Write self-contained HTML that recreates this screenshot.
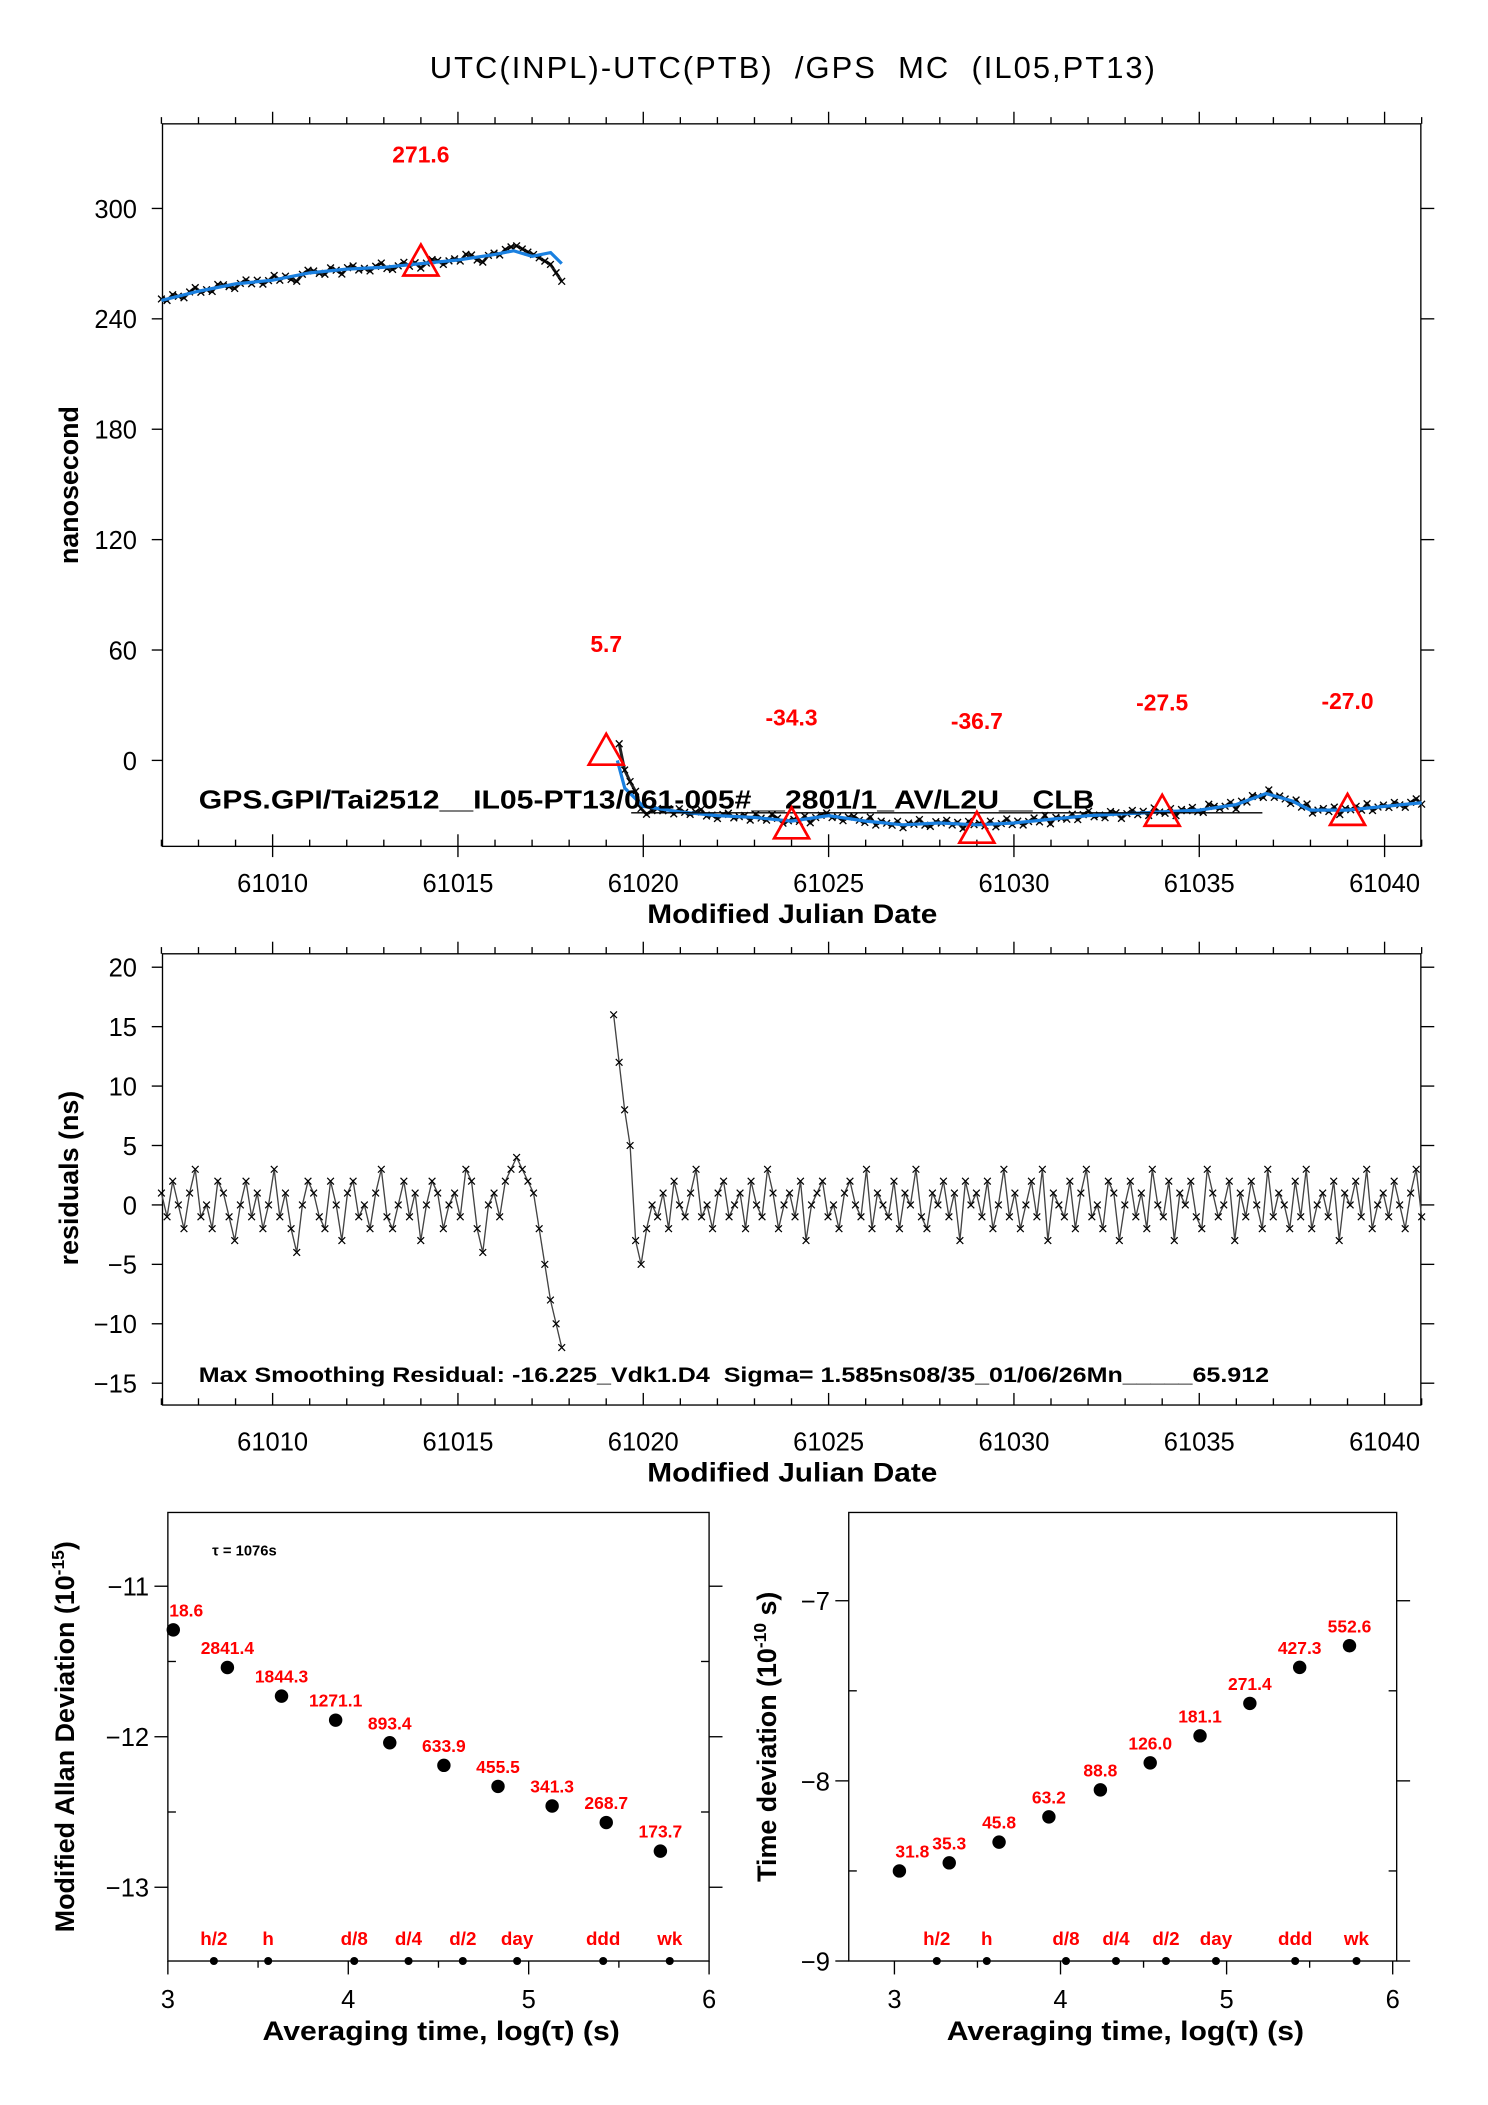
<!DOCTYPE html>
<html><head><meta charset="utf-8"><style>html,body{margin:0;padding:0;background:#fff}svg{display:block}text{font-family:"Liberation Sans",sans-serif;white-space:pre}</style></head>
<body>
<svg id="chart" xmlns="http://www.w3.org/2000/svg" width="1488" height="2105" viewBox="0 0 1108 1567">
<rect width="1108" height="1567" fill="#fff"/>
<text x="590" y="58" font-size="23" text-anchor="middle" textLength="540" lengthAdjust="spacing" xml:space="preserve">UTC(INPL)-UTC(PTB)  /GPS  MC  (IL05,PT13)</text>
<g id="top"></g><g id="mid"></g><g id="adev"></g><g id="tdev"></g>
</svg>
<script>
// ---- Top panel data ----
const seg1Mjd=[61007,61008,61009,61010,61011,61012,61013,61014,61015,61016,61016.5,61017,61017.5,61017.8];
const seg1Ns=[250,255,259,261,265,267,268,270,272,275,277,274,276,270];
const seg2Mjd=[61019.3,61019.5,61020,61021,61022,61023,61024,61025,61026,61027,61028,61029,61030,61031,61032,61033,61034,61035,61036,61036.8,61037.5,61038,61039,61040,61041];
const seg2Ns=[0,-15,-25,-28,-30,-31,-33,-30,-33,-35,-34,-35,-34,-32,-30,-29,-28,-27,-24,-18,-22,-27,-27,-25,-23];
const triMjd=[61014,61019,61024,61029,61034,61039];
const triVal=[271.6,5.7,-34.3,-36.7,-27.5,-27.0];
const triLabelNs=[325,59,19,17,27,28];
const mjdTicks=[61010,61015,61020,61025,61030,61035,61040];
const nsTicks=[0,60,120,180,240,300];
// ---- Residual data ----
const res1=[1,-1,2,0,-2,1,3,-1,0,-2,2,1,-1,-3,0,2,-1,1,-2,0,3,-1,1,-2,-4,0,2,1,-1,-2,2,0,-3,1,2,-1,0,-2,1,3,-1,-2,0,2,-1,1,-3,0,2,1,-2,0,1,-1,3,2,-2,-4,0,1,-1,2,3,4,3,2,1,-2,-5,-8,-10,-12];
const res2=[16,12,8,5,-3,-5,-2,0,-1,1,-2,2,0,-1,1,3,-1,0,-2,1,2,-1,0,1,-2,2,0,-1,3,1,-2,0,1,-1,2,-3,0,1,2,-1,0,-2,1,2,0,-1,3,-2,1,0,-1,2,-2,1,0,3,-1,-2,1,0,2,-1,1,-3,2,0,1,-1,2,-2,0,3,-1,1,-2,0,2,-1,3,-3,1,0,-1,2,-2,1,3,-1,0,-2,2,1,-3,0,2,-1,1,-2,3,0,-1,2,-3,1,0,2,-1,-2,3,1,-1,0,2,-3,1,-1,2,0,-2,3,-1,1,0,-2,2,-1,3,-2,0,1,-1,2,-3,1,0,2,-1,3,-2,0,1,-1,2,0,-2,1,3,-1];
const res1Start=61007, res1End=61017.8, res2Start=61019.2, res2End=61041;
const resTicks=[-15,-10,-5,0,5,10,15,20];
// ---- Allan / TDEV data ----
const adevLogTau=[3.03,3.33,3.63,3.93,4.23,4.53,4.83,5.13,5.43,5.73];
const adevVal=[-11.29,-11.54,-11.73,-11.89,-12.04,-12.19,-12.33,-12.46,-12.57,-12.76];
const adevLabels=["18.6","2841.4","1844.3","1271.1","893.4","633.9","455.5","341.3","268.7","173.7"];
const tdevLogTau=[3.03,3.33,3.63,3.93,4.24,4.54,4.84,5.14,5.44,5.74];
const tdevVal=[-8.5,-8.455,-8.34,-8.2,-8.05,-7.9,-7.75,-7.57,-7.37,-7.25];
const tdevLabels=["31.8","35.3","45.8","63.2","88.8","126.0","181.1","271.4","427.3","552.6"];
const markNames=["h/2","h","d/8","d/4","d/2","day","ddd","wk"];
const markLog=[3.255,3.556,4.033,4.334,4.635,4.936,5.413,5.782];
const NS="http://www.w3.org/2000/svg";
function mk(p,tag,at,txt){const e=document.createElementNS(NS,tag);for(const k in at)e.setAttribute(k,at[k]);if(txt!==undefined)e.textContent=txt;p.appendChild(e);return e;}
function lin(d0,d1,r0,r1){return v=>r0+(v-d0)*(r1-r0)/(d1-d0);}
function interp(xs,ys,x){if(x<=xs[0])return ys[0];for(let i=1;i<xs.length;i++){if(x<=xs[i]){const t=(x-xs[i-1])/(xs[i]-xs[i-1]);return ys[i-1]+t*(ys[i]-ys[i-1]);}}return ys[ys.length-1];}
function xmark(g,x,y,s,w){return mk(g,'path',{d:`M${x-s},${y-s}L${x+s},${y+s}M${x-s},${y+s}L${x+s},${y-s}`,stroke:'#000','stroke-width':w});}

// ===== TOP =====
(function(){
const g=document.getElementById('top');
const X=lin(61007,61041,120.2,1058.6), Y=lin(0,300,566,155);
const L=121,R=1058,T=92,B=630;
let e=mk(g,'rect',{x:L,y:T,width:R-L,height:B-T,fill:'none',stroke:'#000','stroke-width':1});

for(let d=61007;d<=61041;d++){const x=X(d);const maj=d%5==0;
 mk(g,'line',{x1:x,y1:T,x2:x,y2:T-(maj?9:5),stroke:'#000'});mk(g,'line',{x1:x,y1:B,x2:x,y2:B-(maj?9:5),stroke:'#000'});
 if(maj){mk(g,'line',{x1:x,y1:B,x2:x,y2:B+8,stroke:'#000'});}}
mjdTicks.forEach(t=>{e=mk(g,'text',{x:X(t),y:664,'font-size':19,'text-anchor':'middle'},t);});
nsTicks.forEach(t=>{const y=Y(t);mk(g,'line',{x1:L-8,y1:y,x2:L,y2:y,stroke:'#000'});mk(g,'line',{x1:R,y1:y,x2:R+10,y2:y,stroke:'#000'});
 e=mk(g,'text',{x:102,y:y+7,'font-size':19,'text-anchor':'end'},t);});
e=mk(g,'text',{x:590,y:687,'font-size':20,'font-weight':'bold','text-anchor':'middle',textLength:216,lengthAdjust:'spacingAndGlyphs'},'Modified Julian Date');
e=mk(g,'text',{x:58,y:361,'font-size':20,'font-weight':'bold','text-anchor':'middle',transform:'rotate(-90 58 361)'},'nanosecond');
[[res1,res1Start,res1End,seg1Mjd,seg1Ns],[res2,res2Start+0.15,res2End,seg2Mjd,seg2Ns]].forEach(s=>{const a=s[0],st=(s[2]-s[1])/(a.length-1);
 const pts=a.map((v,i)=>{const m=s[1]+i*st;return X(m)+','+Y(interp(s[3],s[4],m)+v*0.8);}).join(' ');
 e=mk(g,'polyline',{points:pts,fill:'none',stroke:'#222','stroke-width':2.2});
 a.forEach((v,i)=>{const m=s[1]+i*st;e=xmark(g,X(m),Y(interp(s[3],s[4],m)+v*0.8),2.5,1);});});
[[seg1Mjd,seg1Ns],[seg2Mjd,seg2Ns]].forEach((s,i)=>{const pts=s[0].map((m,j)=>X(m)+','+Y(s[1][j])).join(' ');
 e=mk(g,'polyline',{points:pts,fill:'none',stroke:'#1a80e0','stroke-width':2.4});});
mk(g,'line',{x1:470,y1:605,x2:940,y2:605,stroke:'#000','stroke-width':1});
e=mk(g,'text',{x:148,y:602,'font-size':19,'font-weight':'bold',textLength:667,lengthAdjust:'spacingAndGlyphs'},'GPS.GPI/Tai2512__IL05-PT13/061-005#__2801/1_AV/L2U__CLB');
triMjd.forEach((m,i)=>{const x=X(m),y=Y(triVal[i]);
 e=mk(g,'polygon',{points:`${x-13},${y+11} ${x+13},${y+11} ${x},${y-12}`,fill:'none',stroke:'#f00','stroke-width':2});
 e=mk(g,'text',{x:x,y:Y(triLabelNs[i]),'font-size':17,'font-weight':'bold',fill:'#f00','text-anchor':'middle'},triVal[i].toFixed(1));});
})();

// ===== RESIDUALS =====
(function(){
const g=document.getElementById('mid');
const X=lin(61007,61041,120.2,1058.6), Y=lin(0,20,897,720);
const L=121,R=1058,T=710,B=1046;
let e=mk(g,'rect',{x:L,y:T,width:R-L,height:B-T,fill:'none',stroke:'#000'});
for(let d=61007;d<=61041;d++){const x=X(d);const maj=d%5==0;
 mk(g,'line',{x1:x,y1:T,x2:x,y2:T-(maj?9:5),stroke:'#000'});mk(g,'line',{x1:x,y1:B,x2:x,y2:B-(maj?9:5),stroke:'#000'});}
mjdTicks.forEach(t=>{e=mk(g,'text',{x:X(t),y:1080,'font-size':19,'text-anchor':'middle'},t);});
resTicks.forEach(t=>{const y=Y(t);mk(g,'line',{x1:L-8,y1:y,x2:L,y2:y,stroke:'#000'});mk(g,'line',{x1:R,y1:y,x2:R+10,y2:y,stroke:'#000'});
 e=mk(g,'text',{x:102,y:y+7,'font-size':19,'text-anchor':'end'},(t<0?'\u2212'+(-t):t));});
e=mk(g,'text',{x:590,y:1103,'font-size':20,'font-weight':'bold','text-anchor':'middle',textLength:216,lengthAdjust:'spacingAndGlyphs'},'Modified Julian Date');
e=mk(g,'text',{x:58,y:877,'font-size':20,'font-weight':'bold','text-anchor':'middle',transform:'rotate(-90 58 877)'},'residuals (ns)');
[[res1,res1Start,res1End],[res2,res2Start,res2End]].forEach(s=>{const a=s[0],st=(s[2]-s[1])/(a.length-1);
 const pts=a.map((v,i)=>X(s[1]+i*st)+','+Y(v)).join(' ');
 e=mk(g,'polyline',{points:pts,fill:'none',stroke:'#444','stroke-width':1});
 a.forEach((v,i)=>{e=xmark(g,X(s[1]+i*st),Y(v),2.5,0.9);});});
e=mk(g,'text',{x:148,y:1029,'font-size':16,'font-weight':'bold',textLength:797,lengthAdjust:'spacingAndGlyphs'},'Max Smoothing Residual: -16.225_Vdk1.D4  Sigma= 1.585ns08/35_01/06/26Mn_____65.912');
})();

// ===== STABILITY PANELS =====
function stab(id,L,R,T,B,x0,x1,yTop,yBot,logs,vals,labels,ytitle,ytx,tau){
const g=document.getElementById(id);
const X=lin(x0,x1,L,R), Y=lin(yTop,yBot,T,B);
let e=mk(g,'rect',{x:L,y:T,width:R-L,height:B-T,fill:'none',stroke:'#000'});
for(let v=Math.ceil(yBot*2)/2;v<=yTop;v+=0.5){const y=Y(v);const maj=Math.abs(v-Math.round(v))<1e-6;
 mk(g,'line',{x1:L-(maj?10:0),y1:y,x2:L+(maj?0:6),y2:y,stroke:'#000'});mk(g,'line',{x1:R-(maj?0:6),y1:y,x2:R+(maj?10:0),y2:y,stroke:'#000'});
 if(maj){e=mk(g,'text',{x:L-14,y:y+7,'font-size':19,'text-anchor':'end'},'\u2212'+Math.abs(Math.round(v)));}}
for(let v=3;v<=6.001;v+=0.5){const x=X(v);const maj=Math.abs(v-Math.round(v))<1e-6;
 mk(g,'line',{x1:x,y1:B,x2:x,y2:B+(maj?10:5),stroke:'#000'});
 if(maj){e=mk(g,'text',{x:x,y:B+35,'font-size':19,'text-anchor':'middle'},Math.round(v));}}
e=mk(g,'text',{x:(L+R)/2+2,y:B+59,'font-size':20,'font-weight':'bold','text-anchor':'middle',textLength:266,lengthAdjust:'spacingAndGlyphs'},'Averaging time, log(\u03c4) (s)');
const cy=(T+B)/2;
e=mk(g,'text',{x:ytx,y:cy,'font-size':20,'font-weight':'bold','text-anchor':'middle',transform:`rotate(-90 ${ytx} ${cy})`});
e.innerHTML=ytitle;
logs.forEach((l,i)=>{const x=X(l),y=Y(vals[i]);
 e=mk(g,'circle',{cx:x,cy:y,r:5,fill:'#000'});
 e=mk(g,'text',{x:x+(i==0?-3:0),y:y-10,'font-size':13,'font-weight':'bold',fill:'#f00','text-anchor':i==0?'start':'middle'},labels[i]);});
markLog.forEach((l,i)=>{const x=X(l);
 e=mk(g,'circle',{cx:x,cy:B,r:3,fill:'#000'});
 e=mk(g,'text',{x:x,y:B-12,'font-size':14,'font-weight':'bold',fill:'#f00','text-anchor':'middle'},markNames[i]);});
if(tau){e=mk(g,'text',{x:158,y:1158,'font-size':11,'font-weight':'bold'},'\u03c4 = 1076s');}
}
stab('adev',125,528,1126,1460,3,6,-10.51,-13.49,adevLogTau,adevVal,adevLabels,'Modified Allan Deviation (10<tspan baseline-shift="super" font-size="13">-15</tspan>)',55,true);
stab('tdev',632,1040,1126,1460,2.725,6.024,-6.51,-9,tdevLogTau,tdevVal,tdevLabels,'Time deviation (10<tspan baseline-shift="super" font-size="13">-10</tspan> s)',578,false);
</script>
</body></html>
